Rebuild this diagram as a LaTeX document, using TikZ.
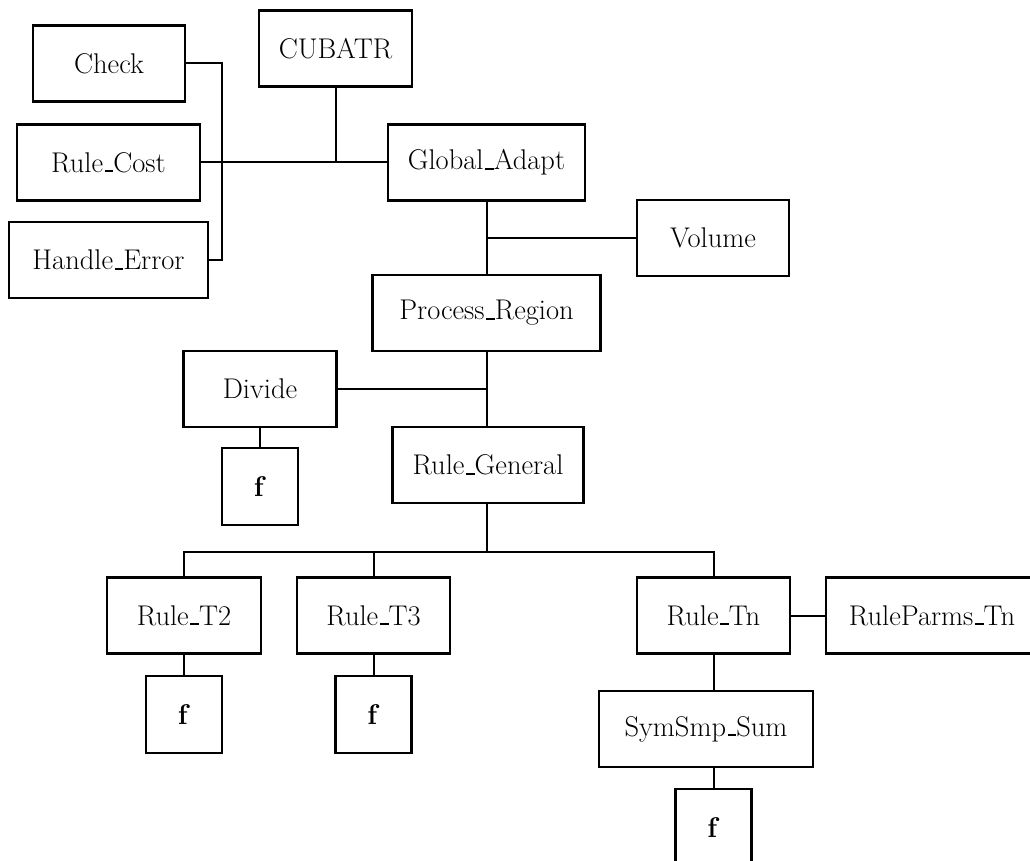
\documentclass[tikz,border=0pt]{standalone}
\usepackage{tikz}
\usetikzlibrary{positioning}

\newcommand{\ubar}{\leavevmode\kern.06em\rule{.3em}{1.8pt}}

\tikzset{
  modbox/.style={draw, line width=2.4pt, minimum height=76pt, inner sep=0pt,
    font=\fontsize{28.5}{32}\selectfont},
  fbox/.style={modbox, minimum width=76pt, minimum height=77pt},
  link/.style={line width=2pt}
}

\begin{document}
\begin{tikzpicture}[x=1pt, y=-1pt]
  \useasboundingbox (0,0) rectangle (1030,861);
  % modules
  \node[modbox, minimum width=153pt] (cubatr) at (335.5,48.5) {CUBATR};
  \node[modbox, minimum width=152pt] (check) at (109,63.5) {Check};
  \node[modbox, minimum width=183pt] (rulecost) at (108.5,162.5) {Rule\ubar Cost};
  \node[modbox, minimum width=199pt] (handleerr) at (108.5,260) {Handle\ubar Error};
  \node[modbox, minimum width=197pt] (global) at (486.5,162.5) {Global\ubar Adapt};
  \node[modbox, minimum width=152pt] (volume) at (713,238) {Volume};
  \node[modbox, minimum width=228pt] (process) at (486.5,313) {Process\ubar Region};
  \node[modbox, minimum width=153pt] (divide) at (260,389) {Divide};
  \node[fbox] (fdiv) at (260,486.5) {\textbf{f}};
  \node[modbox, minimum width=191pt] (general) at (488,465) {Rule\ubar General};
  \node[modbox, minimum width=154pt] (ruletwo) at (184,615.5) {Rule\ubar T2};
  \node[modbox, minimum width=153pt] (rulethree) at (373.5,615.5) {Rule\ubar T3};
  \node[modbox, minimum width=153pt] (rulen) at (713.5,615.5) {Rule\ubar Tn};
  \node[modbox, minimum width=212pt] (parms) at (932,615.5) {RuleParms\ubar Tn};
  \node[fbox] (ftwo) at (184,714.5) {\textbf{f}};
  \node[fbox] (fthree) at (373.5,714.5) {\textbf{f}};
  \node[modbox, minimum width=214pt] (symsmp) at (706,729) {SymSmp\ubar Sum};
  \node[fbox] (fsum) at (713.5,827.5) {\textbf{f}};
  \coordinate (bus) at (486.5,552);

  % calls
  \draw[link] (cubatr.south) -- (cubatr.south |- global.west);
  \draw[link] (rulecost.east) -- (global.west);
  \draw[link] (check.east) -- ++(36,0) |- (handleerr.east);
  \draw[link] (global.south) -- (process.north);
  \draw[link] (volume.west) -- (volume.west -| global.south);
  \draw[link] (process.south) -- (process.south |- general.north);
  \draw[link] (divide.east) -- (divide.east -| process.south);
  \draw[link] (divide.south) -- (fdiv.north);
  \draw[link] (general.south -| bus) -- (bus);
  \draw[link] (ruletwo.north) |- (bus) -| (rulen.north);
  \draw[link] (rulethree.north) -- (rulethree.north |- bus);
  \draw[link] (rulen.east) -- (parms.west);
  \draw[link] (ruletwo.south) -- (ftwo.north);
  \draw[link] (rulethree.south) -- (fthree.north);
  \draw[link] (rulen.south) -- (rulen.south |- symsmp.north);
  \draw[link] (fsum.north |- symsmp.south) -- (fsum.north);
\end{tikzpicture}
\end{document}
